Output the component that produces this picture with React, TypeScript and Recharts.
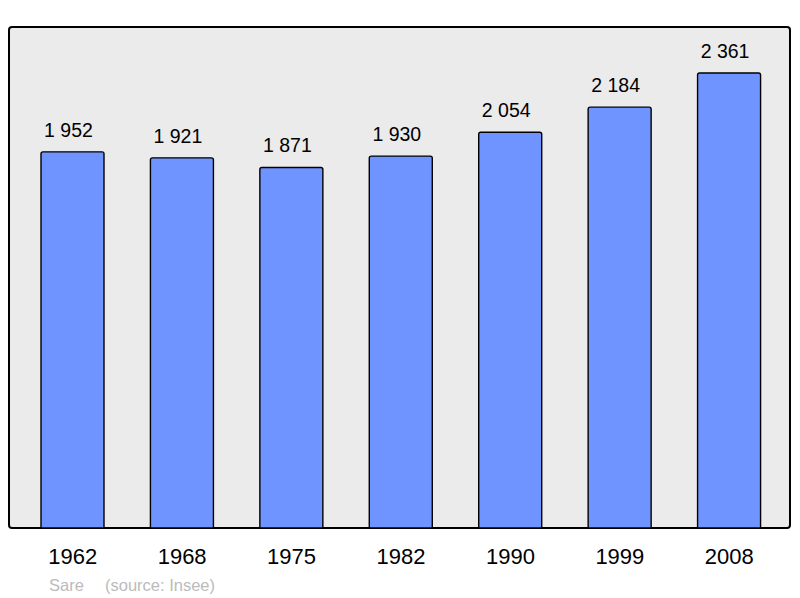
import React from 'react'
import { BarChart, Bar, XAxis, YAxis, LabelList } from 'recharts'

const years = ['1962', '1968', '1975', '1982', '1990', '1999', '2008']
const population = [1952, 1921, 1871, 1930, 2054, 2184, 2361]

const data = years.map((year, i) => ({ year, population: population[i] }))

const fmt = (v: number) => {
  const s = String(v)
  return s.length > 3 ? `${s.slice(0, s.length - 3)} ${s.slice(-3)}` : s
}

const FONT = '"Liberation Sans", Arial, sans-serif'

export default function App() {
  return (
    <div style={{ position: 'absolute', left: 0, top: 0, width: 800, height: 598, background: '#fff', fontFamily: FONT }}>
      {/* plot frame */}
      <div
        style={{
          position: 'absolute',
          left: 8,
          top: 26,
          width: 779,
          height: 499,
          background: '#ebebeb',
          border: '2px solid #000',
          borderRadius: 4,
        }}
      />
      <div style={{ position: 'absolute', left: 0, top: 0 }}>
        <BarChart width={800} height={598} data={data} margin={{ top: 27, right: 10, bottom: 40, left: 9 }}>
          <XAxis
            dataKey="year"
            height={30}
            axisLine={false}
            tickLine={false}
            padding={{ left: 9, right: 6 }}
            tickMargin={14}
            tick={{ fill: '#000', fontSize: 22, fontFamily: FONT }}
          />
          <YAxis hide domain={[0, 2600]} />
          <Bar
            dataKey="population"
            fill="#7094ff"
            stroke="#000"
            strokeWidth={1.4}
            barSize={63}
            radius={[2, 2, 0, 0]}
            isAnimationActive={false}
          >
            <LabelList
              dataKey="population"
              position="top"
              offset={15}
              dx={-4}
              formatter={(v: number) => fmt(v)}
              style={{ fill: '#000', fontSize: 19.5, fontFamily: FONT }}
            />
          </Bar>
        </BarChart>
      </div>
      <div style={{ position: 'absolute', left: 49, top: 576, fontSize: 16.5, color: '#bbb' }}>Sare</div>
      <div style={{ position: 'absolute', left: 105, top: 576, fontSize: 16.5, color: '#bbb' }}>(source: Insee)</div>
    </div>
  )
}
